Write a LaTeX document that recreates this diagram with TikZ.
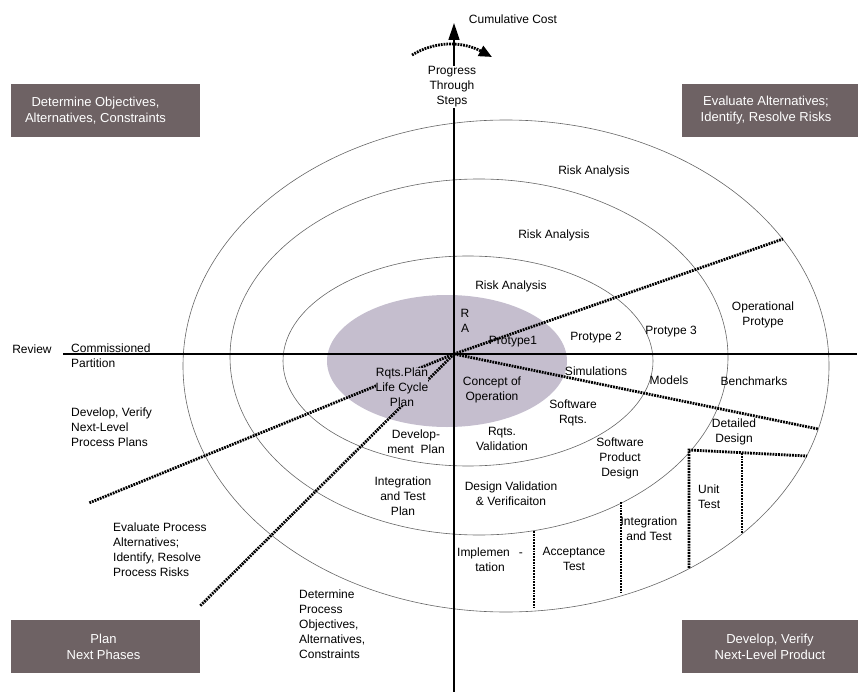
\documentclass[tikz,border=0pt]{standalone}
\usepackage{fontspec}
\setmainfont{Liberation Sans}
\usetikzlibrary{arrows.meta}
\definecolor{boks}{RGB}{110,98,100}
\definecolor{kjerne}{RGB}{197,190,206}

\begin{document}
\begin{tikzpicture}[
    x=1pt, y=-1pt,
    kvad/.style = {rectangle, fill=boks, minimum height=53pt},
    kvadtxt/.style = {text=white, align=center, inner sep=0pt, font=\fontsize{13}{16}\selectfont},
    txt/.style = {align=center, inner sep=1pt},
    vtxt/.style = {align=left, inner sep=1pt, anchor=west},
    ring/.style = {draw=black!60, line width=0.6pt},
    akse/.style = {black, line width=1.4pt},
    pil/.style = {-{Triangle[length=17pt, width=11pt]}},
    prikk/.style = {line width=2.8pt, dash pattern=on 1.8pt off 1pt},
    font=\fontsize{12}{15}\selectfont
    ]
  \useasboundingbox (0,0) rectangle (858,692);

  % spiral rings
  \fill[kjerne] (447,361) ellipse [x radius=120pt, y radius=66pt];
  \draw[ring] (506,366) ellipse [x radius=323pt, y radius=246pt];
  \draw[ring] (479,357) ellipse [x radius=249pt, y radius=178pt];
  \draw[ring] (468,361) ellipse [x radius=185pt, y radius=105pt];

  % axes
  \coordinate (O) at (454,354);
  \coordinate (topp) at (454,23);
  \coordinate (bunn) at (454,692);
  \coordinate (vest) at (63,354);
  \coordinate (ost) at (857,354);
  \draw[akse, pil] (bunn) -- (topp);
  \draw[akse] (vest) -- (ost);

  % progress arrow
  \coordinate (c1) at (412,55);
  \coordinate (c2) at (492,57);
  \draw[prikk, -{Triangle[length=13pt, width=11pt]}] (c1) .. controls (435,41) and (462,41) .. (c2);

  % dotted spokes
  \coordinate (d1) at (783,239);
  \coordinate (d2) at (818,429);
  \coordinate (d3) at (89,503);
  \coordinate (d4) at (200,606);
  \draw[prikk] (O) -- (d1);
  \draw[prikk] (O) -- (d2);
  \draw[prikk] (O) -- (d3);
  \draw[prikk] (O) -- (d4);

  % dotted walls, lower right
  \coordinate (u1) at (689,450);
  \coordinate (u2) at (807,456);
  \coordinate (u3) at (689,568);
  \coordinate (u4) at (742,453);
  \coordinate (u5) at (742,533);
  \coordinate (v1) at (621,502);
  \coordinate (v2) at (621,593);
  \coordinate (w1) at (534,531);
  \coordinate (w2) at (534,609);
  \draw[prikk] (u3) -- (u1) -- (u2);
  \draw[prikk] (u4) -- (u5);
  \draw[prikk] (v1) -- (v2);
  \draw[prikk] (w1) -- (w2);

  % quadrant boxes
  \node[kvad, minimum width=189pt] (q1) at (105.5,110.5) {};
  \node[kvadtxt] (q1t) at ([xshift=-10pt]q1.center) {Determine Objectives,\\Alternatives, Constraints};
  \node[kvad, minimum width=176pt] (q2) at (770,110.5) {};
  \node[kvadtxt] (q2t) at ([xshift=-4pt]q2.center) {Evaluate Alternatives;\\Identify, Resolve Risks};
  \node[kvad, minimum width=189pt] (q3) at (105.5,646.5) {};
  \node[kvadtxt] (q3t) at ([xshift=-2pt]q3.center) {Plan\\Next Phases};
  \node[kvad, minimum width=176pt] (q4) at (770,646.5) {};
  \node[kvadtxt] (q4t) at (q4.center) {Develop, Verify\\Next-Level Product};

  % axis labels
  \node[txt] (cost) at (513,19) {Cumulative Cost};
  \node[txt, fill=white] (prog) at (452,87) {Progress\\Through\\Steps};
  \node[txt] (review) at (32,349) {Review};
  \node[vtxt] (comm) at (70,356) {Commissioned\\Partition};

  % upper half
  \node[txt] (ra1) at (594,171) {Risk Analysis};
  \node[txt] (ra2) at (554,235) {Risk Analysis};
  \node[txt] (ra3) at (511,286) {Risk Analysis};
  \node[txt] (ra) at (465,321) {R\\A};
  \node[txt] (p1) at (513,342) {Protype1};
  \node[txt] (p2) at (596,338) {Protype 2};
  \node[txt] (p3) at (671,332) {Protype 3};
  \node[txt] (op) at (763,315) {Operational\\Protype};

  % lower left
  \node[txt, fill=kjerne, inner sep=0pt] (rqplan) at (402,387) {Rqts.Plan\\Life Cycle\\Plan};
  \node[txt] (devplan) at (416,442) {Develop-\\ment\ \ Plan};
  \node[txt] (intplan) at (403,496) {Integration\\and Test\\Plan};
  \node[vtxt] (procplan) at (70,427) {Develop, Verify\\Next-Level\\Process Plans};
  \node[vtxt] (evproc) at (112,550) {Evaluate Process\\Alternatives;\\Identify, Resolve\\Process Risks};
  \node[vtxt] (detproc) at (298,624) {Determine\\Process\\Objectives,\\Alternatives,\\Constraints};

  % lower right
  \node[txt] (concept) at (492,390) {Concept of\\Operation};
  \node[txt] (sim) at (596,371) {Simulations};
  \node[txt] (models) at (669,380) {Models};
  \node[txt] (bench) at (754,381) {Benchmarks};
  \node[txt] (swrq) at (573,413) {Software\\Rqts.};
  \node[txt] (rqval) at (502,439) {Rqts.\\Validation};
  \node[txt] (swprod) at (620,458) {Software\\Product\\Design};
  \node[txt] (detdes) at (734,432) {Detailed\\Design};
  \node[txt] (desval) at (511,494) {Design Validation\\\& Verificaiton};
  \node[vtxt, align=left] (unit) at (697,497) {Unit\\Test};
  \node[txt] (inttest) at (649,529) {Integration\\and Test};
  \node[txt] (accept) at (574,559) {Acceptance\\Test};
  \node[txt] (impl) at (490,560) {Implemen\hspace{9pt}-\\tation};
\end{tikzpicture}
\end{document}
